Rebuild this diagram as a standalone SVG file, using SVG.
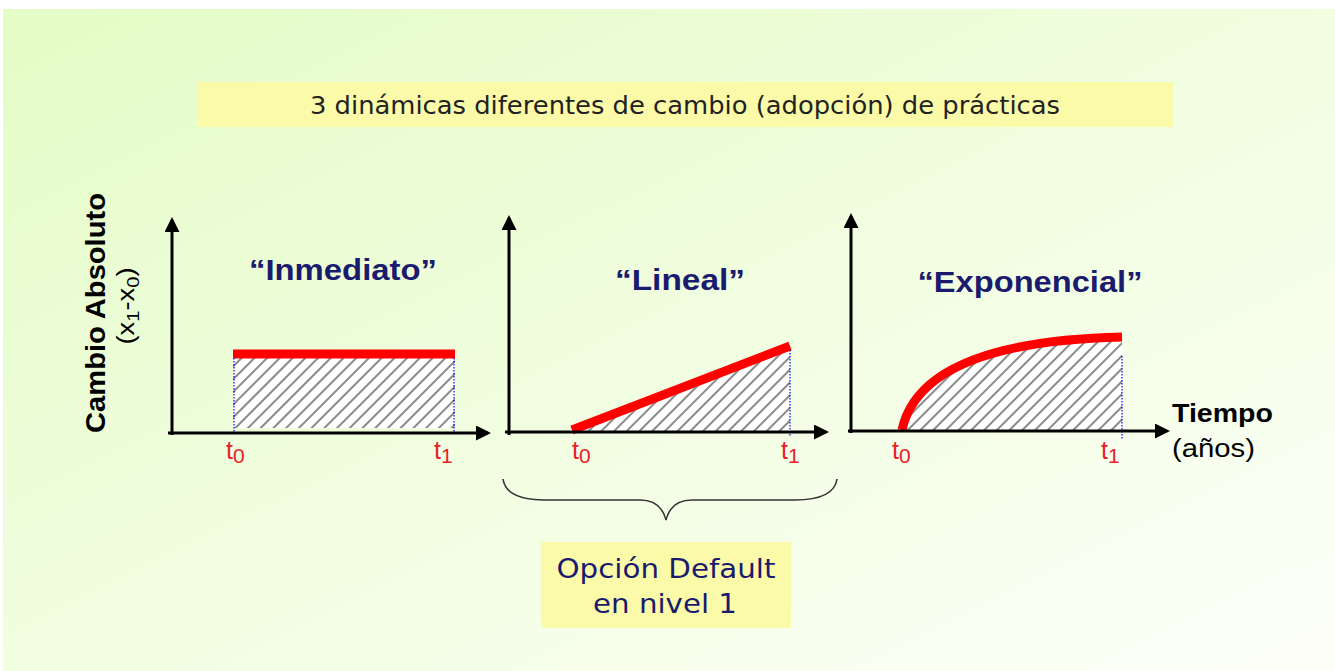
<svg xmlns="http://www.w3.org/2000/svg" width="1335" height="671" viewBox="0 0 1335 671">
<defs>
<linearGradient id="bg" x1="0" y1="0" x2="1" y2="1">
<stop offset="0" stop-color="#e4fcc6"/>
<stop offset="1" stop-color="#fdfff9"/>
</linearGradient>
<pattern id="hatch" width="9" height="9" patternUnits="userSpaceOnUse" patternTransform="rotate(45)">
<rect width="9" height="9" fill="#ffffff"/>
<line x1="0" y1="0" x2="0" y2="9" stroke="#8a8a8a" stroke-width="4"/>
</pattern>
<marker id="arr" viewBox="0 0 10 10" refX="8" refY="5" markerWidth="5" markerHeight="5" orient="auto" markerUnits="strokeWidth">
<path d="M0,0 L10,5 L0,10 z" fill="#000"/>
</marker>
<style>
.axis{stroke:#000;stroke-width:3;fill:none}
.red{stroke:#ff0000;stroke-width:9;fill:none}
.dot{stroke:#0000ff;stroke-width:1.2;stroke-dasharray:1.5 1.5;fill:none}
.title{font-family:"Liberation Sans",Arial,sans-serif;font-weight:bold;font-size:29px;fill:#1a1a6e;text-anchor:middle}
.t{font-family:"Liberation Sans",Arial,sans-serif;font-size:25px;fill:#e8202a}
.ts{font-size:21px}
.box{fill:#fafaa8}
.vt{font-family:"DejaVu Sans",Verdana,sans-serif;text-anchor:middle}
.lab{font-family:"Liberation Sans",Arial,sans-serif;fill:#000}
</style>
</defs>
<rect x="0" y="0" width="1335" height="671" fill="#ffffff"/>
<rect x="3" y="9" width="1332" height="662" fill="url(#bg)"/>

<g id="header">
<rect class="box" x="197" y="82" width="976" height="45"/>
<text class="vt" x="685" y="114" font-size="24" fill="#222" textLength="750" lengthAdjust="spacingAndGlyphs">3 dinámicas diferentes de cambio (adopción) de prácticas</text>
</g>

<g id="ylabel">
<text class="lab" transform="translate(105,313) rotate(-90)" font-weight="bold" font-size="28" text-anchor="middle" textLength="240" lengthAdjust="spacingAndGlyphs">Cambio Absoluto</text>
<text class="lab" transform="translate(134,306) rotate(-90)" font-size="23" text-anchor="middle" fill="#111" textLength="77" lengthAdjust="spacingAndGlyphs">(x<tspan font-size="17" dy="5">1</tspan><tspan dy="-5">-x</tspan><tspan font-size="17" dy="5">0</tspan><tspan dy="-5">)</tspan></text>
</g>

<g id="chart-inmediato">
<rect x="233" y="358" width="222" height="70" fill="url(#hatch)"/>
<line class="red" x1="233" y1="354" x2="455" y2="354"/>
<line class="dot" x1="234" y1="358" x2="234" y2="434"/>
<line class="dot" x1="454" y1="358" x2="454" y2="434"/>
<text class="title" x="343" y="280" textLength="188" lengthAdjust="spacingAndGlyphs">“Inmediato”</text>
<text class="t" x="226" y="459">t<tspan class="ts" dy="4">0</tspan></text>
<text class="t" x="434" y="459">t<tspan class="ts" dy="4">1</tspan></text>
</g>

<g id="chart-lineal">
<polygon points="574,431 790,347 790,431" fill="url(#hatch)"/>
<line class="red" x1="572" y1="430" x2="790" y2="346"/>
<line class="dot" x1="790" y1="350" x2="790" y2="436"/>
<text class="title" x="680" y="290" textLength="130" lengthAdjust="spacingAndGlyphs">“Lineal”</text>
<text class="t" x="572" y="459">t<tspan class="ts" dy="4">0</tspan></text>
<text class="t" x="781" y="459">t<tspan class="ts" dy="4">1</tspan></text>
</g>

<g id="chart-exponencial">
<path d="M902,430 C915,370 990,340 1122,337 L1122,430 Z" fill="url(#hatch)"/>
<path class="red" d="M902,430 C915,370 990,340 1122,337"/>
<line class="dot" x1="1122" y1="356" x2="1122" y2="440"/>
<text class="title" x="1030" y="292" textLength="225" lengthAdjust="spacingAndGlyphs">“Exponencial”</text>
<text class="t" x="892" y="459">t<tspan class="ts" dy="4">0</tspan></text>
<text class="t" x="1101" y="459">t<tspan class="ts" dy="4">1</tspan></text>
<text class="lab" x="1172" y="422" font-weight="bold" font-size="26" textLength="101" lengthAdjust="spacingAndGlyphs">Tiempo</text>
<text class="lab" x="1172" y="457" font-size="26" fill="#222" textLength="83" lengthAdjust="spacingAndGlyphs">(años)</text>
</g>

<g id="connectors">
<line class="axis" x1="172" y1="435" x2="172" y2="220" marker-end="url(#arr)"/>
<line class="axis" x1="168" y1="433" x2="488" y2="433" marker-end="url(#arr)"/>
<line class="axis" x1="509" y1="435" x2="509" y2="218" marker-end="url(#arr)"/>
<line class="axis" x1="505" y1="432" x2="826" y2="432" marker-end="url(#arr)"/>
<line class="axis" x1="851" y1="433" x2="851" y2="216" marker-end="url(#arr)"/>
<line class="axis" x1="848" y1="431" x2="1167" y2="431" marker-end="url(#arr)"/>
<path d="M503,479 C505,493 518,500 545,500 L640,500 C655,500 663,508 666,520 C669,508 677,500 692,500 L795,500 C822,500 835,493 837,479" fill="none" stroke="#333" stroke-width="1.6"/>
</g>

<g id="default-box">
<rect class="box" x="541" y="542" width="250" height="86"/>
<text class="vt" x="666" y="578" fill="#1a1a6e" font-size="27" textLength="219" lengthAdjust="spacingAndGlyphs">Opción Default</text>
<text class="vt" x="665" y="613" fill="#1a1a6e" font-size="27" textLength="144" lengthAdjust="spacingAndGlyphs">en nivel 1</text>
</g>
</svg>
